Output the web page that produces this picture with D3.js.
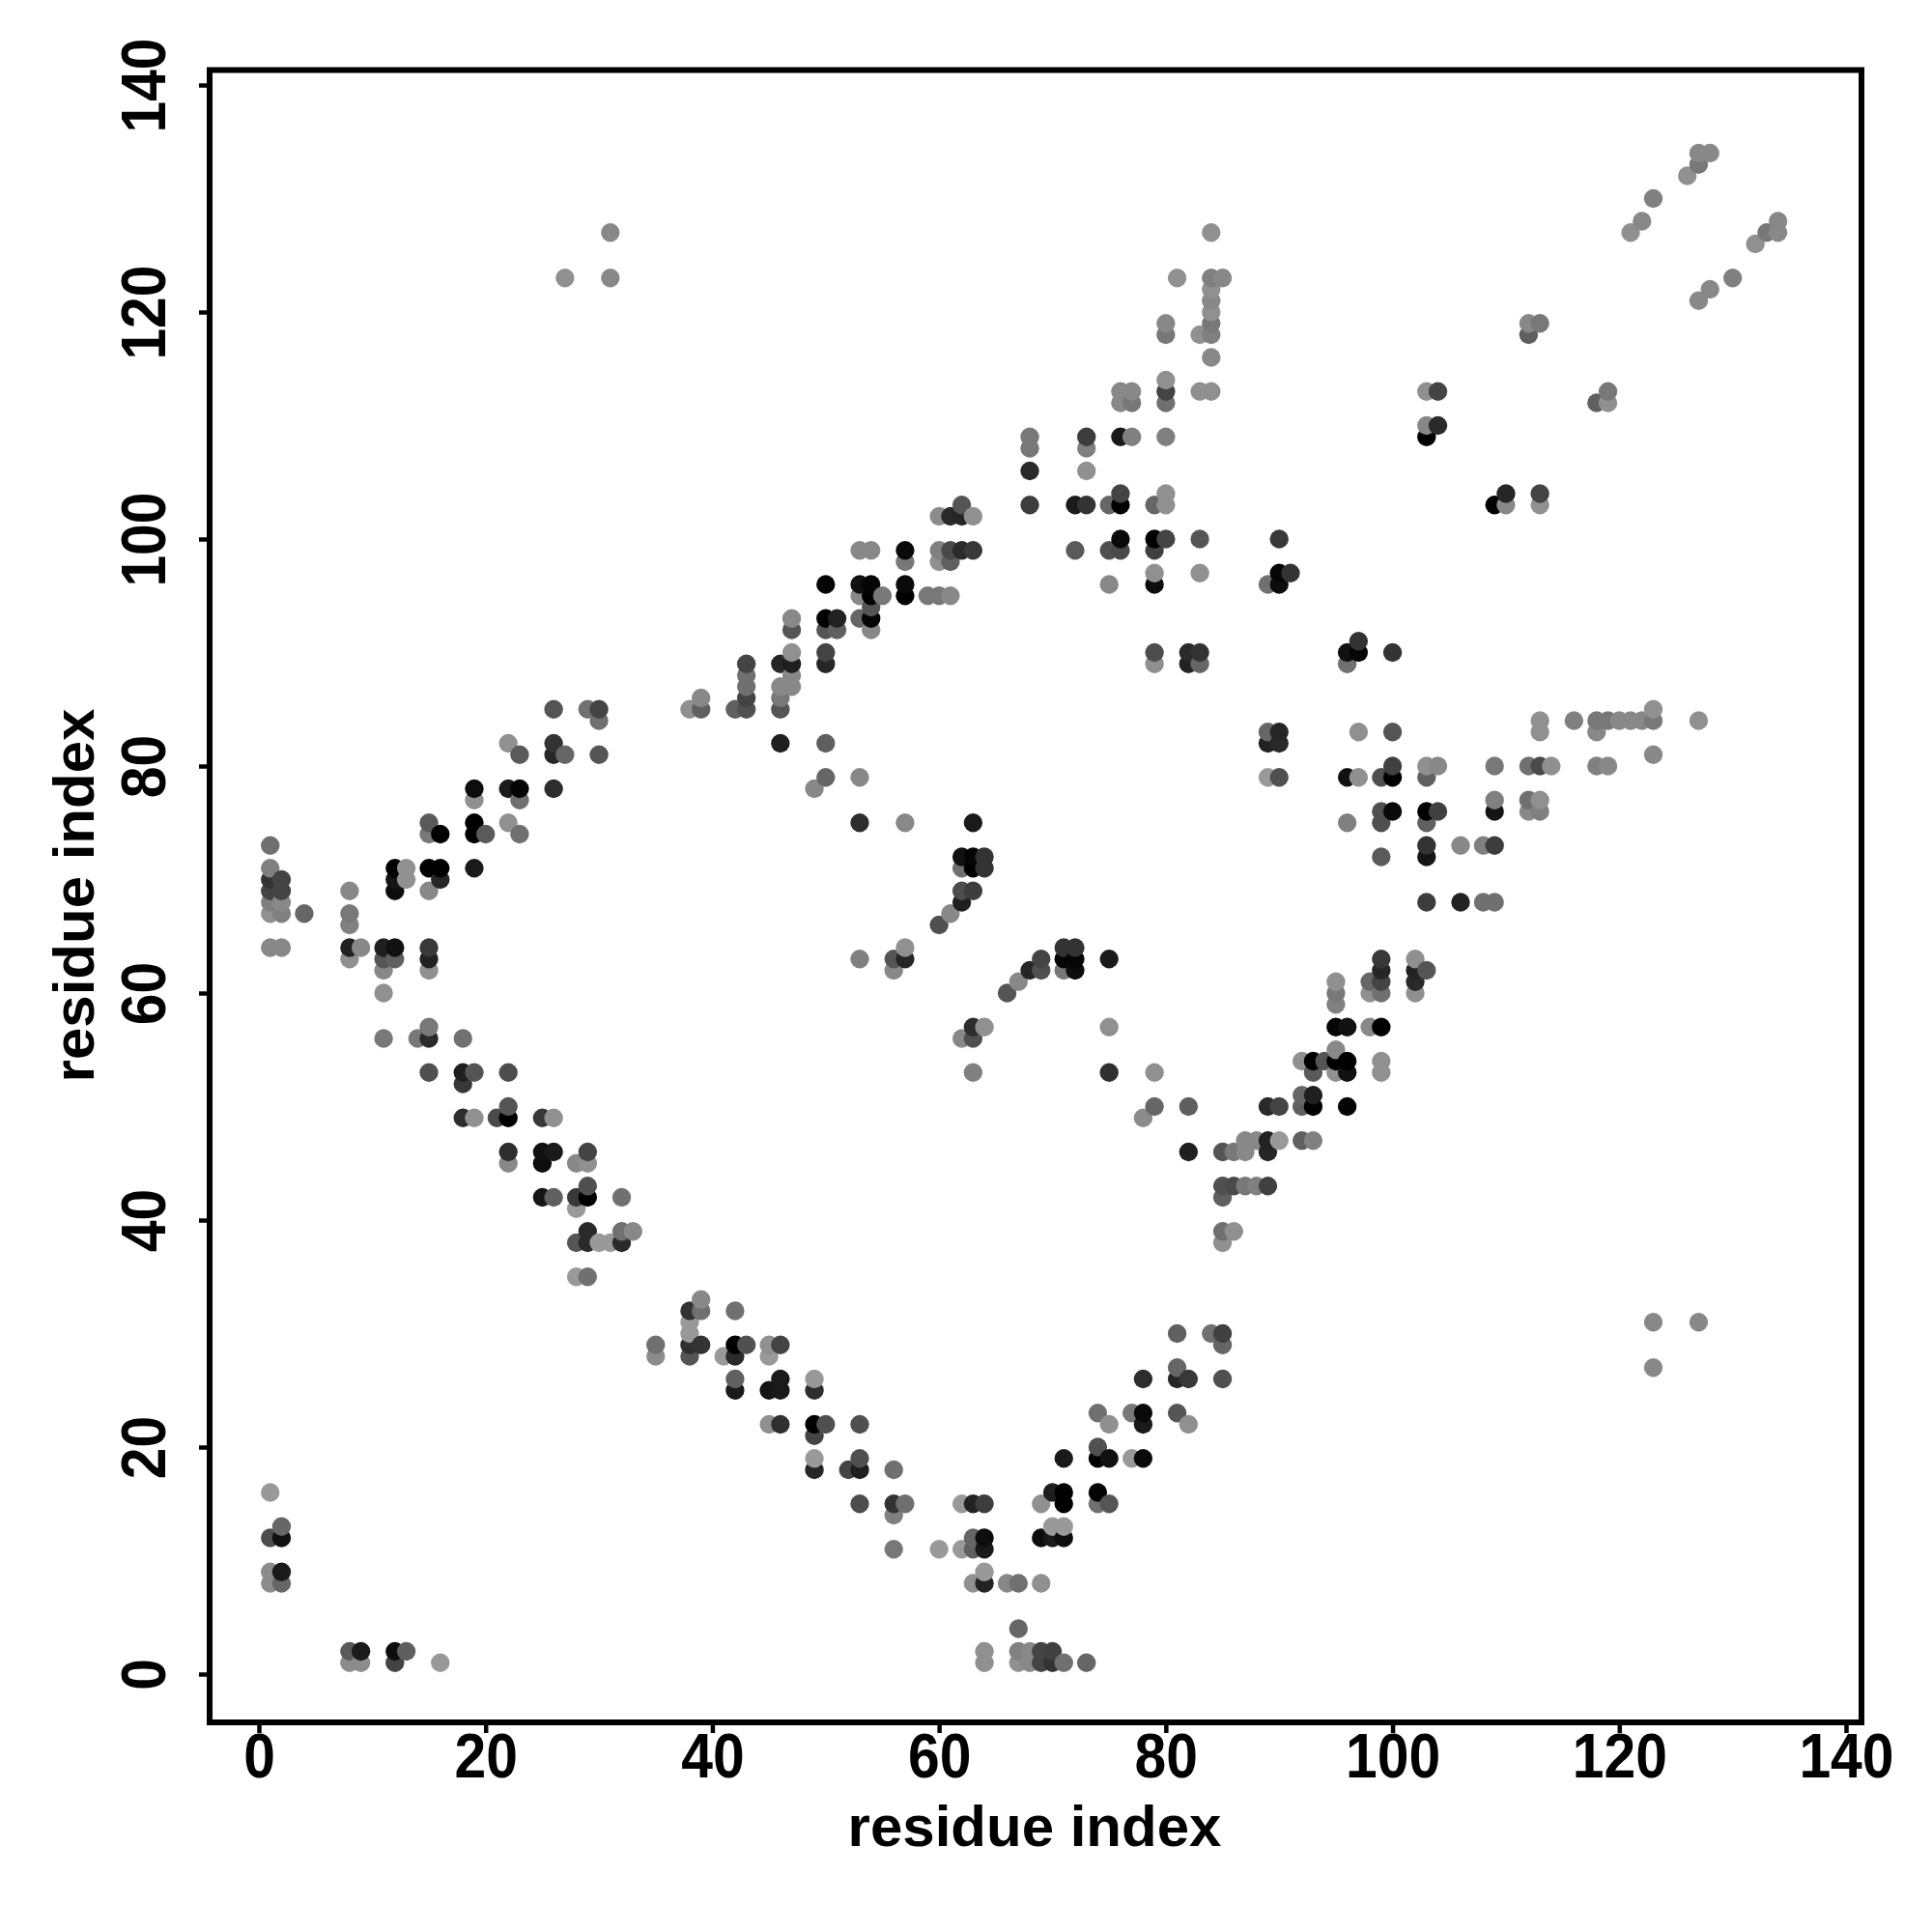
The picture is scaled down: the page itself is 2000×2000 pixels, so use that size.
<!DOCTYPE html>
<html><head><meta charset="utf-8">
<script src="https://cdn.jsdelivr.net/npm/d3@7"></script>
<style>html,body{margin:0;background:#fff}svg{display:block}</style></head>
<body><div id="c"></div>
<script>
// each contact: [residue i, residue j, grey level]
const contactsBottomLeft=[
[1,16,0x99],[2,13,0x66],[1,12,0x4d],[2,12,0x11],[1,9,0x8c],[2,9,0x1a],[1,8,0x8c],[2,8,0x66],
[8,2,0x5a],[9,2,0x1a],[12,2,0x0d],[13,2,0x5f],[8,1,0x8c],[9,1,0x8c],[12,1,0x44],[16,1,0x99],
[29,39,0x2a],[32,39,0x70],[33,39,0x88],[28,38,0x55],[29,38,0x2a],[30,38,0x99],[31,38,0x99],[32,38,0x2a],
[28,35,0x99],[29,35,0x70],[28,41,0x99],
[35,29,0x70],[35,28,0x8c],[39,33,0x88],[38,32,0x33],[39,32,0x70],[38,31,0x99],[38,30,0x99],[38,29,0x30],[39,29,0x33],[38,28,0x55],
[42,32,0x70],[42,29,0x00],[43,29,0x50],[41,28,0x99],[42,28,0x2a],[42,26,0x60],[42,25,0x1a]];
const contactsBottomMiddle=[
[45,29,0x90],[46,29,0x44],[45,28,0x99],[46,26,0x1a],[49,26,0x99],[45,25,0x15],[46,25,0x1a],[49,25,0x2d],
[45,22,0x90],[46,22,0x30],[49,22,0x00],[50,22,0x50],[53,22,0x50],[49,21,0x44],[49,19,0x99],[53,19,0x50],
[49,18,0x26],[52,18,0x44],[53,18,0x1f],[56,18,0x70],[53,15,0x4d],[56,15,0x33],[57,15,0x70],[56,14,0x80],
[56,11,0x78],[60,11,0x99],[62,11,0x99],[63,11,0x60],[64,11,0x1a],[62,15,0x99],[63,15,0x22],[64,15,0x3d],
[63,12,0x66],[64,12,0x0d],[64,9,0x99],[63,8,0x90],[64,8,0x22],[66,8,0x88],[67,8,0x70],[69,8,0x90],[67,4,0x66],
[64,2,0x90],[67,2,0x80],[68,2,0x88],[69,2,0x44],[70,2,0x40],[64,1,0x90],[67,1,0x90],[68,1,0x88],[69,1,0x44],[70,1,0x33],[71,1,0x70],[73,1,0x66],
[78,26,0x2d],[74,23,0x70],[77,23,0x78],[78,23,0x0a],[75,22,0x90],[78,22,0x1a],[74,20,0x50],
[71,19,0x1a],[74,19,0x00],[75,19,0x11],[77,19,0x99],[78,19,0x0a],[70,16,0x1f],[71,16,0x00],[74,16,0x05],
[69,15,0x90],[71,15,0x00],[74,15,0x70],[75,15,0x55],[70,13,0x99],[71,13,0x99],[69,12,0x0d],[70,12,0x1a],[71,12,0x0d],
[81,30,0x60],[84,30,0x70],[85,30,0x40],[85,29,0x66],[81,27,0x66],[81,26,0x26],[82,26,0x38],[85,26,0x50],[81,23,0x55],[82,22,0x90]];
const contactsLeft=[
[26,85,0x55],[29,85,0x70],[30,85,0x44],[30,84,0x70],[22,82,0x90],[26,82,0x33],[23,81,0x5a],[26,81,0x26],[27,81,0x66],[30,81,0x55],
[19,78,0x0d],[22,78,0x1a],[23,78,0x05],[26,78,0x2d],[19,77,0x90],[23,77,0x70],[15,75,0x5a],[19,75,0x00],[22,75,0x90],
[15,74,0x78],[16,74,0x00],[19,74,0x00],[20,74,0x5a],[23,74,0x70],[1,73,0x70],
[1,71,0x80],[12,71,0x00],[13,71,0x90],[15,71,0x00],[16,71,0x00],[19,71,0x1a],[1,70,0x33],[2,70,0x44],[12,70,0x15],[13,70,0x90],[16,70,0x26],
[1,69,0x44],[2,69,0x44],[8,69,0x88],[12,69,0x0d],[15,69,0x88],[1,68,0x80],[2,68,0x88],[1,67,0x90],[2,67,0x80],[4,67,0x66],[8,67,0x78],[8,66,0x80],
[1,64,0x88],[2,64,0x88],[8,64,0x22],[9,64,0x88],[11,64,0x1f],[12,64,0x11],[15,64,0x38],[8,63,0x90],[11,63,0x55],[12,63,0x60],[15,63,0x22],
[11,62,0x88],[15,62,0x90],[11,60,0x90],[15,57,0x78],[11,56,0x78],[14,56,0x78],[15,56,0x2a],[18,56,0x70],
[15,53,0x50],[18,53,0x1f],[19,53,0x55],[22,53,0x4d],[18,52,0x38],[22,50,0x55],[18,49,0x2d],[19,49,0x90],[21,49,0x4a],[22,49,0x00],[25,49,0x38],[26,49,0x90],
[22,46,0x2d],[25,46,0x11],[26,46,0x1a],[29,46,0x44],[22,45,0x88],[25,45,0x0d],[28,45,0x88],[29,45,0x90],[29,43,0x50],
[25,42,0x15],[26,42,0x60],[28,42,0x38],[29,42,0x00],[32,42,0x70]];
const contactsUpperMiddle=[
[53,99,0x88],[54,99,0x88],[57,99,0x0a],[60,99,0x80],[61,99,0x4a],[62,99,0x2a],[63,99,0x38],[57,98,0x78],[60,98,0x90],[61,98,0x60],
[60,102,0x8c],[61,102,0x2a],[62,102,0x26],[63,102,0x90],[62,103,0x55],
[50,96,0x05],[53,96,0x11],[54,96,0x05],[57,96,0x0a],[53,95,0x88],[54,95,0x00],[55,95,0x78],[57,95,0x00],[59,95,0x78],[60,95,0x78],[61,95,0x88],[54,94,0x55],
[50,93,0x00],[51,93,0x22],[53,93,0x66],[54,93,0x05],[47,92,0x55],[50,92,0x55],[51,92,0x60],[54,92,0x88],[47,93,0x88],[47,90,0x90],[50,90,0x44],
[43,89,0x44],[46,89,0x26],[47,89,0x1f],[50,89,0x26],[43,88,0x70],[47,88,0x88],[43,87,0x70],[46,87,0x88],[47,87,0x88],[43,86,0x44],[46,86,0x78],
[38,85,0x90],[39,85,0x60],[42,85,0x60],[43,85,0x50],[46,85,0x55],[39,86,0x88],[46,82,0x1f],[50,82,0x5f],[50,79,0x66],[53,79,0x88],[49,78,0x88],
[53,75,0x2d],[57,75,0x88],[63,75,0x1a],[62,72,0x11],[63,72,0x05],[64,72,0x33],[62,71,0x70],[63,71,0x00],[64,71,0x33],[62,69,0x4d],[63,69,0x3d],[62,68,0x1f],[61,67,0x88],[60,66,0x50]];
const contactsCentre=[
[53,63,0x80],[56,63,0x55],[57,63,0x26],[75,63,0x1a],[57,64,0x90],[71,64,0x33],[72,64,0x33],[56,62,0x88],[68,62,0x26],[69,62,0x50],[71,62,0x78],[72,62,0x0d],
[69,63,0x44],[71,63,0x05],[72,63,0x05],[67,61,0x88],[66,60,0x55],[63,57,0x2d],[64,57,0x90],[75,57,0x90],[62,56,0x88],[63,56,0x50],[63,53,0x80],[75,53,0x30],[79,53,0x90],
[79,50,0x66],[82,50,0x5f],[78,49,0x8c],[87,47,0x88],[88,47,0x88],[89,47,0x22],[90,47,0x99],[92,47,0x60],[93,47,0x80],
[82,46,0x1f],[85,46,0x55],[86,46,0x78],[87,46,0x88],[89,46,0x26],[85,43,0x50],[86,43,0x4a],[87,43,0x78],[88,43,0x80],[89,43,0x40],[85,42,0x60],[85,39,0x70],[86,39,0x90],[85,38,0x90],
[89,50,0x2a],[90,50,0x44],[92,50,0x5f],[93,50,0x00],[96,50,0x05],[92,51,0x66],[93,51,0x1f],
[93,53,0x5a],[95,53,0x90],[96,53,0x11],[99,53,0x90],[92,54,0x90],[93,54,0x00],[94,54,0x55],[95,54,0x00],[96,54,0x00],[99,54,0x90],[95,55,0x88],
[95,57,0x05],[96,57,0x11],[98,57,0x88],[99,57,0x00],[95,59,0x80],[95,60,0x78],[95,61,0x90],[98,61,0x66],[99,61,0x44],[98,60,0x90],[99,60,0x70],[99,62,0x26],[99,63,0x38],
[102,63,0x90],[102,62,0x22],[103,62,0x55],[102,61,0x2a],[102,60,0x90]];
const contactsRight=[
[96,90,0x11],[96,89,0x70],[97,91,0x33],[97,90,0x05],[100,90,0x33],[83,90,0x33],[83,89,0x66],
[89,83,0x66],[90,83,0x26],[97,83,0x90],[100,83,0x55],[89,82,0x22],[90,82,0x2a],
[89,79,0x99],[90,79,0x50],[96,79,0x11],[97,79,0x90],[99,79,0x50],[100,79,0x00],[100,80,0x40],[103,80,0x90],[104,80,0x88],[109,80,0x78],[112,80,0x70],[113,80,0x4a],[114,80,0x90],[118,80,0x80],[119,80,0x88],
[103,79,0x60],[99,76,0x50],[100,76,0x0a],[103,76,0x00],[104,76,0x40],[109,76,0x15],[112,76,0x88],[113,76,0x80],[109,77,0x80],[112,77,0x70],[113,77,0x90],
[96,75,0x80],[99,75,0x50],[103,75,0x60],[103,73,0x33],[106,73,0x88],[108,73,0x80],[109,73,0x3d],[99,72,0x5a],[103,72,0x15],
[103,68,0x3d],[106,68,0x22],[108,68,0x70],[109,68,0x70],
[113,84,0x90],[116,84,0x80],[118,84,0x78],[119,84,0x78],[120,84,0x88],[121,84,0x88],[122,84,0x88],[123,84,0x78],[127,84,0x90],[113,83,0x90],[118,83,0x88],[123,85,0x90],[123,81,0x88],
[123,31,0x88],[127,31,0x88],[123,27,0x88]];
const contactsUpper=[
[84,127,0x90],[81,123,0x90],[84,123,0x80],[85,123,0x88],[84,122,0x90],[84,121,0x88],[84,120,0x90],[84,119,0x78],[84,118,0x80],[83,118,0x90],[80,119,0x88],[80,118,0x78],[84,116,0x88],
[80,114,0x90],[80,113,0x44],[83,113,0x90],[84,113,0x90],[76,113,0x88],[77,113,0x88],[76,112,0x88],[77,112,0x78],[80,112,0x70],
[68,109,0x78],[73,109,0x3d],[76,109,0x1a],[77,109,0x80],[80,109,0x80],[68,108,0x78],[73,108,0x80],[68,106,0x2a],[73,106,0x90],
[68,103,0x3d],[72,103,0x1a],[73,103,0x33],[75,103,0x66],[76,103,0x00],[79,103,0x66],[80,103,0x90],[76,104,0x44],[80,104,0x90],
[76,100,0x0a],[79,100,0x00],[80,100,0x44],[83,100,0x55],[90,100,0x38],[72,99,0x5a],[75,99,0x50],[76,99,0x4a],[79,99,0x40],
[79,97,0x90],[83,97,0x90],[91,97,0x33],[90,97,0x05],[75,96,0x88],[79,96,0x0d],[89,96,0x70],[90,96,0x0d],[79,90,0x4d],[82,90,0x2a],[79,89,0x90],[82,89,0x22]];
const contactsTopRight=[
[103,113,0x90],[104,113,0x44],[103,110,0x88],[104,110,0x2a],[103,109,0x00],[109,103,0x00],[110,103,0x88],[113,103,0x90],[110,104,0x26],[113,104,0x44],
[112,119,0x88],[113,119,0x78],[112,118,0x5f],[119,113,0x78],[118,112,0x60],[119,112,0x90],
[127,134,0x88],[128,134,0x88],[127,133,0x78],[126,132,0x90],[123,130,0x80],[122,128,0x88],[121,127,0x90],
[134,128,0x88],[133,127,0x78],[134,127,0x88],[132,126,0x90],[130,123,0x80],[128,122,0x88],[127,121,0x88],
[27,123,0x90],[31,123,0x88],[31,127,0x88]];
const xTicks=[0,20,40,60,80,100,120,140];
const yTicks=[0,20,40,60,80,100,120,140];
const xTitle="residue index", yTitle="residue index";

const W=2000,H=2000;
const font='"Liberation Sans",Arial,sans-serif';
const x=d3.scaleLinear().domain([0,140]).range([268,1911]);
const y=d3.scaleLinear().domain([0,140]).range([1733,88]);
const grey=d3.scaleLinear().domain([0,255]).range(["#000000","#ffffff"]);
const frame={l:217,r:1927,t:72.5,b:1783};
const svg=d3.select("#c").append("svg").attr("width",W).attr("height",H);
svg.append("rect").attr("width",W).attr("height",H).attr("fill","#fff");

const points=[].concat(contactsBottomLeft,contactsBottomMiddle,contactsLeft,contactsUpperMiddle,contactsCentre,contactsRight,contactsUpper,contactsTopRight)
  .sort((a,b)=>a[0]-b[0]||a[1]-b[1]);
svg.append("g").selectAll("circle").data(points).join("circle")
  .attr("cx",d=>x(d[0])).attr("cy",d=>y(d[1])).attr("r",9.7)
  .attr("fill",d=>grey(d[2]));

svg.append("rect").attr("x",frame.l).attr("y",frame.t)
  .attr("width",frame.r-frame.l).attr("height",frame.b-frame.t)
  .attr("fill","none").attr("stroke","#000").attr("stroke-width",6);

const gx=svg.append("g").attr("transform",`translate(0,${frame.b})`)
  .call(d3.axisBottom(x).tickValues(xTicks).tickSize(11).tickSizeOuter(0));
const gy=svg.append("g").attr("transform",`translate(${frame.l},0)`)
  .call(d3.axisLeft(y).tickValues(yTicks).tickSize(11).tickSizeOuter(0));
[gx,gy].forEach(g=>{
  g.select(".domain").remove();
  g.selectAll("line").attr("stroke","#000").attr("stroke-width",4.5);
  g.selectAll("text").attr("fill","#000").attr("font-family",font).attr("font-weight","bold").attr("font-size",64);
});
gx.selectAll("text").attr("y",null).attr("dy",null).attr("text-anchor","middle")
  .attr("transform","translate(0,57) scale(0.92,1)");
gy.selectAll("text").attr("x",null).attr("dy",null).attr("text-anchor","middle")
  .attr("transform","translate(-46,0) rotate(-90) scale(0.92,1)");

svg.append("text").attr("x",1071).attr("y",1911).attr("text-anchor","middle")
  .attr("font-family",font).attr("font-weight","bold").attr("font-size",60).text(xTitle);
svg.append("text").attr("transform","translate(97,927) rotate(-90)").attr("text-anchor","middle")
  .attr("font-family",font).attr("font-weight","bold").attr("font-size",60).text(yTitle);
</script></body></html>
